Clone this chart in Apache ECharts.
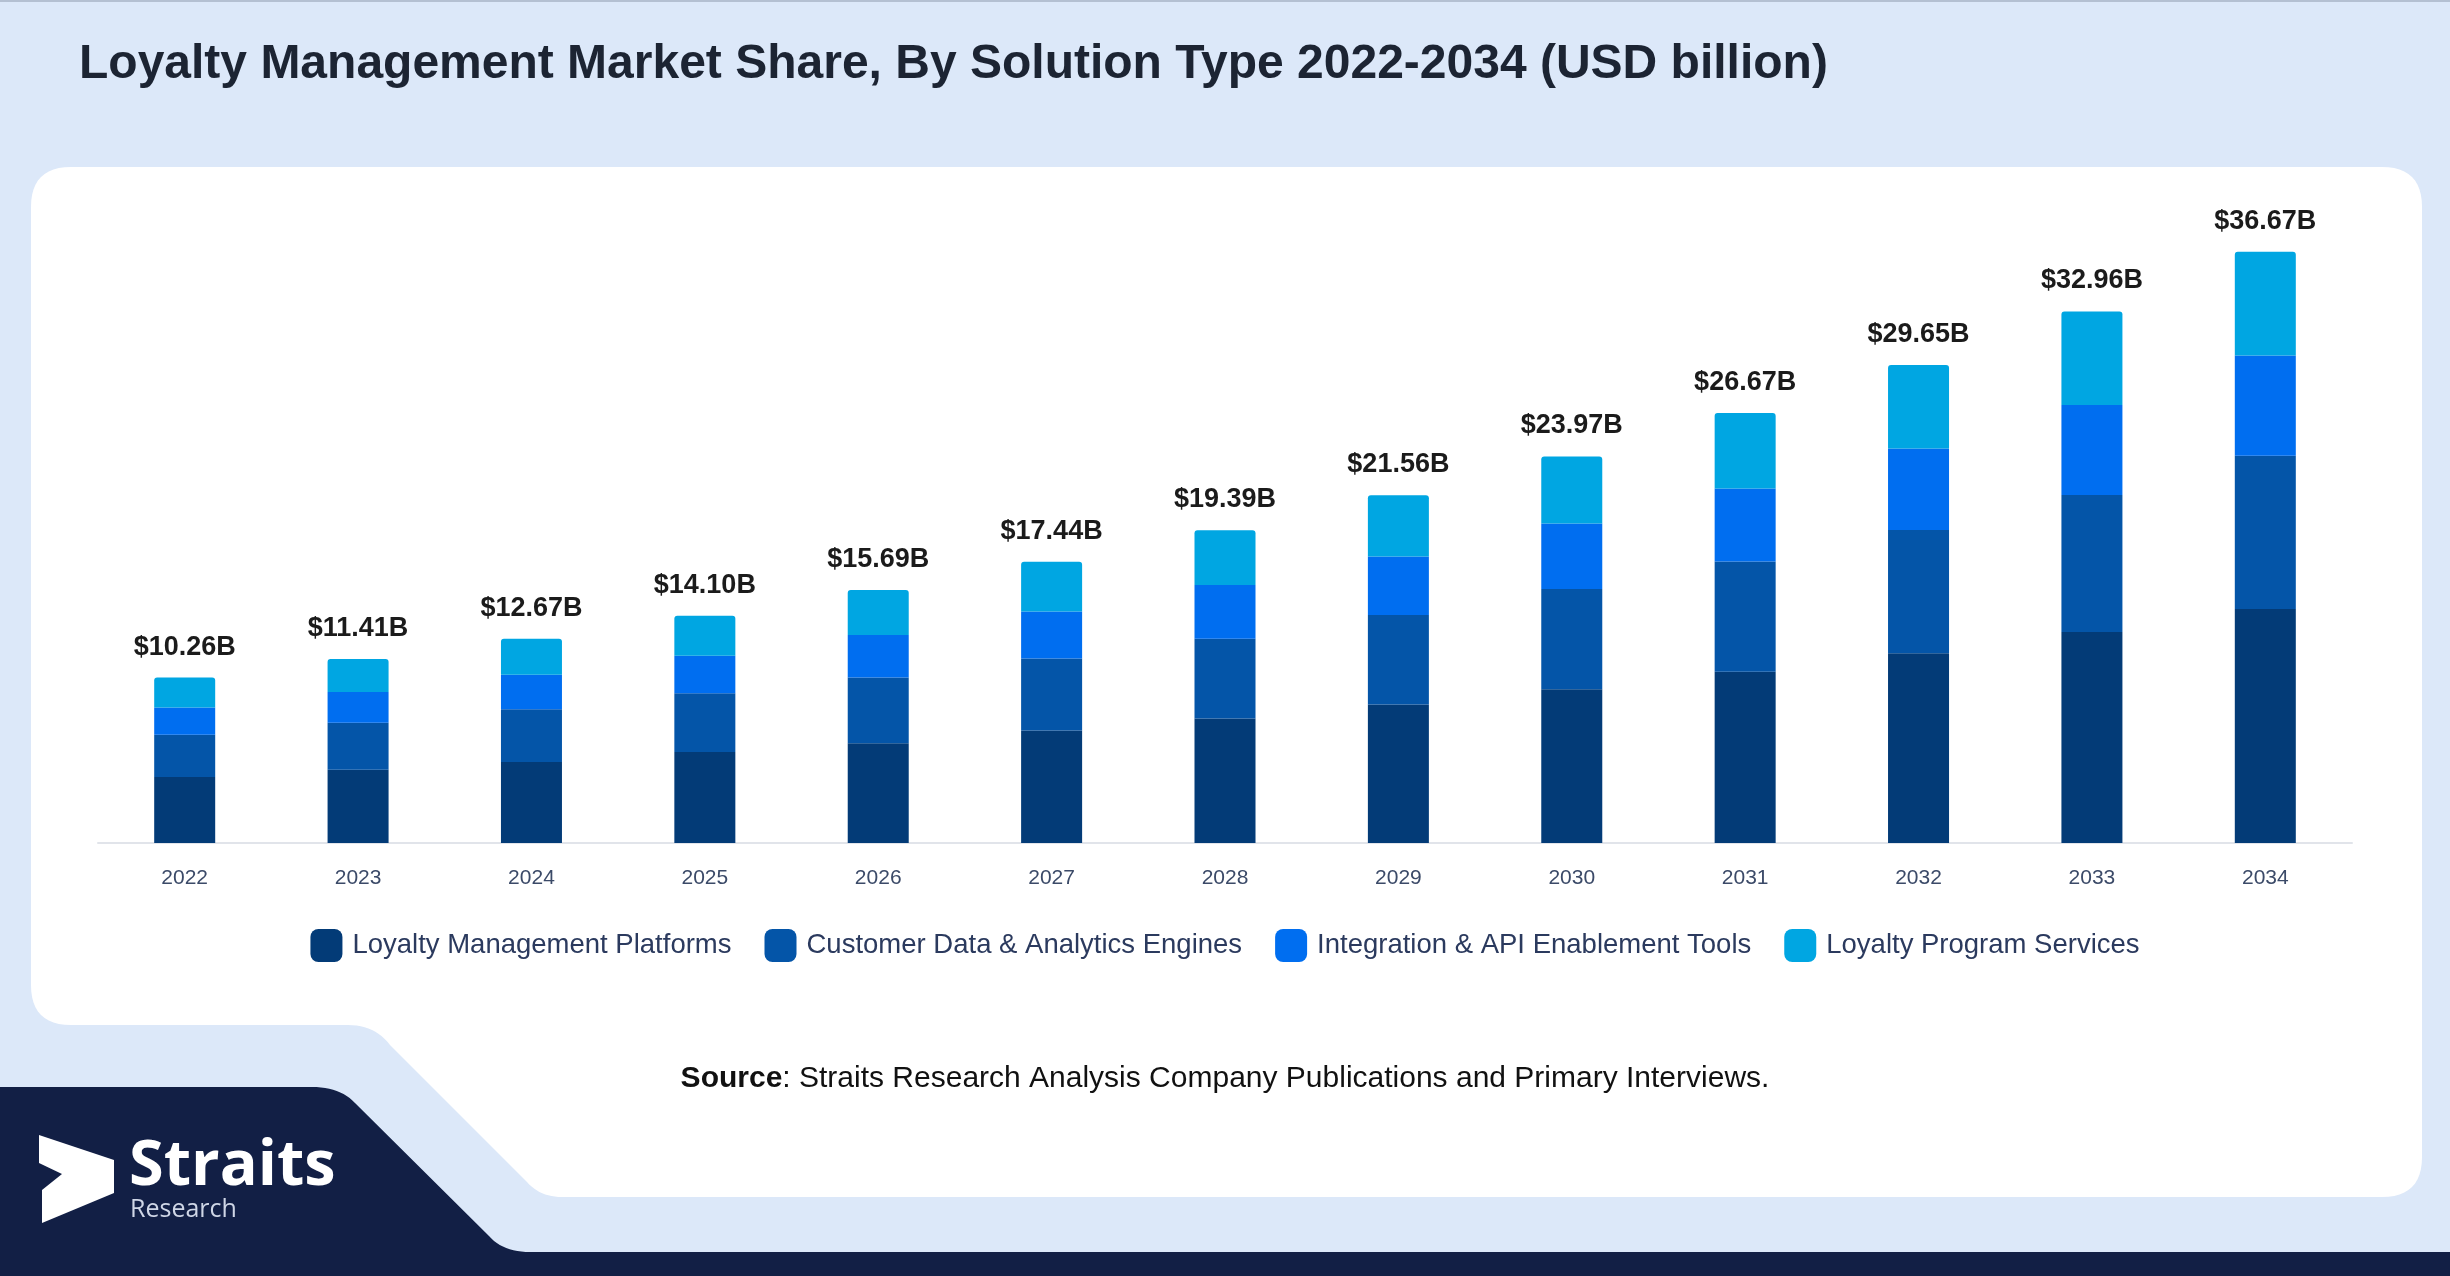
<!DOCTYPE html>
<html>
<head>
<meta charset="utf-8">
<style>
  html, body { margin: 0; padding: 0; background: #dce8f9; }
  #chart { width: 2450px; height: 1276px; }
</style>
<script src="https://cdn.jsdelivr.net/npm/echarts@6/dist/echarts.min.js"></script>
</head>
<body>
<div id="chart"></div>
<script>
const categories = ['2022','2023','2024','2025','2026','2027','2028','2029','2030','2031','2032','2033','2034'];
const seriesNames = ['Loyalty Management Platforms','Customer Data & Analytics Engines','Integration & API Enablement Tools','Loyalty Program Services'];
const platforms   = [4.09,4.55,5.02,5.65,6.19,6.98,7.72,8.59,9.53,10.62,11.77,13.09,14.51];
const analytics   = [2.62,2.90,3.27,3.63,4.07,4.46,4.95,5.55,6.22,6.83,7.64,8.49,9.51];
const integration = [1.69,1.92,2.15,2.34,2.64,2.92,3.33,3.62,4.06,4.53,5.05,5.58,6.21];
const services    = [1.86,2.04,2.23,2.48,2.79,3.08,3.39,3.80,4.16,4.69,5.19,5.80,6.44];
const totals      = [10.26,11.41,12.67,14.10,15.69,17.44,19.39,21.56,23.97,26.67,29.65,32.96,36.67];

const colors = ['#033b77','#0455a8','#006ef0','#00a6e2'];
const FONT = '"Liberation Sans", Arial, Helvetica, sans-serif';

// Build outline points for decorative background shapes (lines + quadratic corners)
function outline(segs) {
  const pts = [];
  let cur = segs[0];
  pts.push(cur);
  for (let i = 1; i < segs.length; i++) {
    const s = segs[i];
    if (s.length === 4) {
      const [cx, cy, ex, ey] = s;
      for (let k = 1; k <= 12; k++) {
        const t = k / 12, u = 1 - t;
        pts.push([u*u*cur[0] + 2*u*t*cx + t*t*ex, u*u*cur[1] + 2*u*t*cy + t*t*ey]);
      }
      cur = [ex, ey];
    } else {
      pts.push(s);
      cur = s;
    }
  }
  return pts;
}

const whitePanel = outline([
  [71,167],[2382,167],[2422,167,2422,207],[2422,1157],[2422,1197,2382,1197],
  [562,1197],[540,1197,527,1182],[390,1045],[375,1025,348,1025],
  [71,1025],[31,1025,31,985],[31,207],[31,167,71,167]
]);
const navyShape = outline([
  [0,1087],[312,1087],[340,1087,355,1103],[489,1236],[503,1252,530,1252],
  [2450,1252],[2450,1276],[0,1276]
]);

const chart = echarts.init(document.getElementById('chart'), null, { renderer: 'canvas' });

function mk(arr, i, isTop) {
  const s = {
    name: seriesNames[i],
    type: 'bar',
    stack: 'total',
    barWidth: 61,
    data: arr,
    itemStyle: { color: colors[i] },
    emphasis: { disabled: true }
  };
  if (isTop) {
    s.itemStyle.borderRadius = [3, 3, 0, 0];
    s.label = {
      show: true,
      position: 'top',
      distance: 17,
      fontFamily: FONT,
      fontWeight: 'bold',
      fontSize: 27,
      color: '#1b1b1b',
      formatter: p => '$' + totals[p.dataIndex].toFixed(2) + 'B'
    };
  }
  return s;
}

chart.setOption({
  backgroundColor: '#dce8f9',
  animation: false,
  title: {
    text: 'Loyalty Management Market Share, By Solution Type 2022-2034 (USD billion)',
    left: 74,
    top: 36,
    textStyle: { fontFamily: FONT, fontWeight: 'bold', fontSize: 48, color: '#1c2433' }
  },
  graphic: [
    { type: 'rect', z: 0, shape: { x: 0, y: 0, width: 2450, height: 2 }, style: { fill: '#b4c0d2' }, silent: true },
    { type: 'polygon', z: 0, shape: { points: whitePanel }, style: { fill: '#ffffff' }, silent: true },
    { type: 'polygon', z: 0, shape: { points: navyShape }, style: { fill: '#121f45' }, silent: true },
    { type: 'polygon', z: 1, shape: { points: [[39,1135],[114,1160],[114,1193],[42,1223],[42,1190],[62,1174],[39,1163]] }, style: { fill: '#ffffff' }, silent: true },
    { type: 'text', z: 1, x: 129, y: 1136, style: { text: 'Straits', font: 'bold 63px "Open Sans", sans-serif', fill: '#ffffff' }, silent: true },
    { type: 'text', z: 1, x: 130, y: 1197, style: { text: 'Research', font: '25px "Open Sans", sans-serif', fill: '#cfd6e6' }, silent: true },
    { type: 'text', z: 1, x: 1225, y: 1064, style: {
        align: 'center',
        rich: {
          b: { fontFamily: FONT, fontWeight: 'bold', fontSize: 30, fill: '#111111' },
          n: { fontFamily: FONT, fontSize: 30, fill: '#111111' }
        },
        text: '{b|Source}{n|: Straits Research Analysis Company Publications and Primary Interviews.}'
      }, silent: true }
  ],
  legend: {
    data: seriesNames,
    top: 924,
    left: 'center',
    itemWidth: 32,
    itemHeight: 33,
    itemGap: 33,
    icon: 'roundRect',
    textStyle: { fontFamily: FONT, fontSize: 27.5, color: '#2b3a5e', padding: [0, 0, 0, 5] },
    selectedMode: false
  },
  grid: { left: 98, right: 98, top: 198, bottom: 433, containLabel: false },
  xAxis: {
    type: 'category',
    data: categories,
    axisLine: { lineStyle: { color: '#e1e4ea', width: 2 } },
    axisTick: { show: false },
    axisLabel: { fontFamily: FONT, fontSize: 21, color: '#3b4a68', margin: 25 }
  },
  yAxis: {
    type: 'value',
    min: 0,
    max: 40,
    show: false,
    splitLine: { show: false }
  },
  series: [
    mk(platforms, 0, false),
    mk(analytics, 1, false),
    mk(integration, 2, false),
    mk(services, 3, true)
  ]
});
</script>
</body>
</html>
